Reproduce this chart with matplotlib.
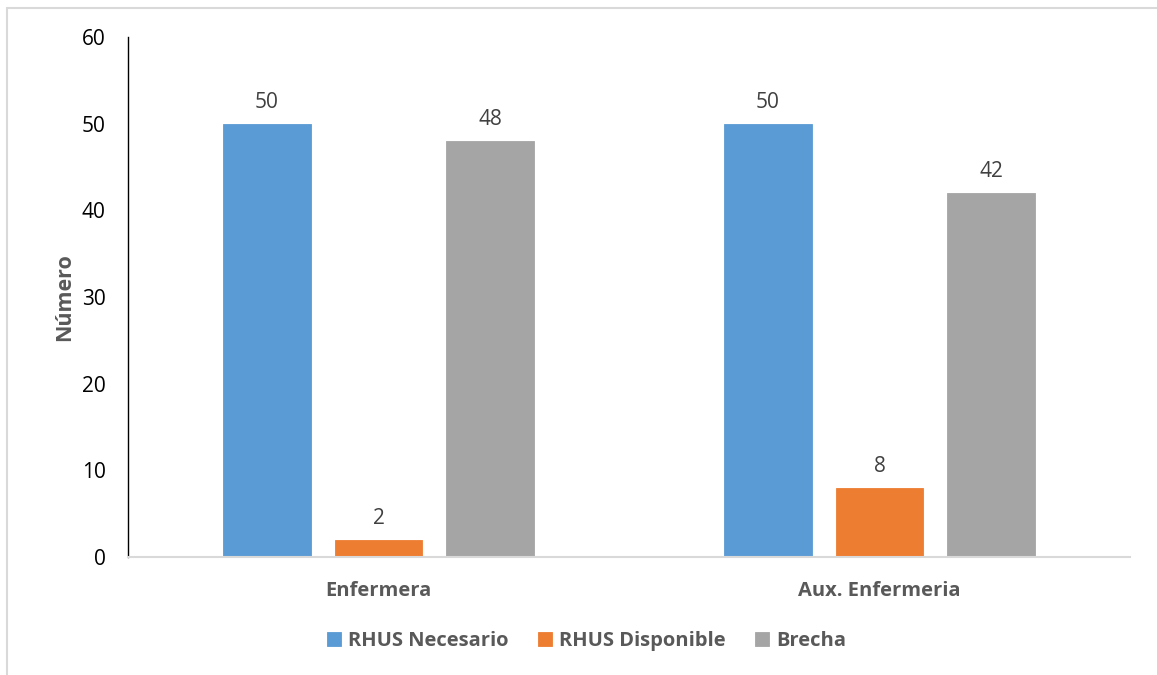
import matplotlib.pyplot as plt
import numpy as np
from matplotlib.patches import Rectangle

# data
categories = ["Enfermera", "Aux. Enfermeria"]
series = ["RHUS Necesario", "RHUS Disponible", "Brecha"]
necesario = [50, 50]
disponible = [2, 8]
brecha = [48, 42]
yticks = [0, 10, 20, 30, 40, 50, 60]

colors = ["#5B9BD5", "#ED7D31", "#A5A5A5"]
plt.rcParams['font.family'] = ['Open Sans', 'DejaVu Sans']

fig = plt.figure(figsize=(11.57, 6.75), dpi=100)
ax = fig.add_axes([128 / 1157, 1 - 557 / 675, 1002 / 1157, 520 / 675])

x = np.arange(len(categories))
w = 0.174
step = 0.2225
for i, (vals, name) in enumerate(zip([necesario, disponible, brecha], series)):
    bars = ax.bar(x + (i - 1) * step, vals, w, color=colors[i], label=name,
                  edgecolor=colors[i], linewidth=0.6)
    for b, v in zip(bars, vals):
        ax.annotate(str(v), (b.get_x() + b.get_width() / 2, v),
                    xytext=(0, 8), textcoords="offset points",
                    ha="center", va="bottom", fontsize=15, color="#404040")

ax.set_xlim(-0.5, 1.5)
ax.set_ylim(0, 60)
ax.set_yticks(yticks)
ax.set_yticklabels([str(t) for t in yticks], fontsize=15, color="black")
ax.set_xticks(x)
ax.set_xticklabels(categories, fontsize=14.5, fontweight="bold", color="#595959")
ax.tick_params(axis="y", length=0, pad=16)
ax.tick_params(axis="x", length=0, pad=17)

for s in ["top", "right"]:
    ax.spines[s].set_visible(False)
ax.spines["left"].set_color("black")
ax.spines["left"].set_linewidth(1.0)
ax.spines["bottom"].set_color("#D9D9D9")
ax.spines["bottom"].set_linewidth(1.5)

ax.set_ylabel("Número", fontsize=15.5, fontweight="bold", color="#595959", labelpad=5)

fig.legend(loc="center", bbox_to_anchor=(0.507, 1 - 641 / 675), ncol=3, frameon=False,
           prop={"size": 14.5, "weight": "bold"}, labelcolor="#595959",
           handlelength=0.7, handleheight=0.7, handletextpad=0.35, columnspacing=1.45)

# outer chart border
fig.patches.append(Rectangle((7 / 1157, -0.1), 1.2, 1 - 8 / 675 + 0.1,
                             transform=fig.transFigure, fill=False,
                             edgecolor="#D9D9D9", linewidth=1.5))

fig.savefig("out.png", dpi=100)
